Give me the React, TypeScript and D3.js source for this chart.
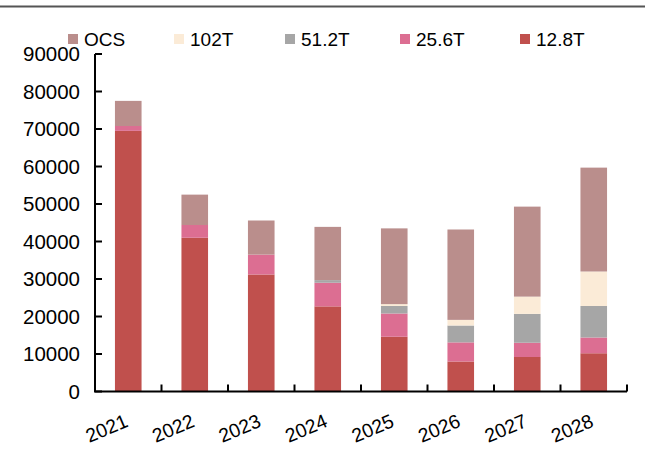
import React from "react";
import * as d3 from "d3";

const years = ["2021", "2022", "2023", "2024", "2025", "2026", "2027", "2028"];
const s128 = [69500, 41000, 31200, 22700, 14600, 8000, 9200, 10200];
const s256 = [1300, 3400, 5300, 6300, 6200, 5100, 3800, 4200];
const s512 = [0, 0, 0, 700, 2000, 4500, 7700, 8400];
const s102 = [0, 0, 0, 0, 500, 1500, 4600, 9200];
const sOCS = [6700, 8100, 9100, 14200, 20200, 24100, 24000, 27700];
const yTicks = [0, 10000, 20000, 30000, 40000, 50000, 60000, 70000, 80000, 90000];

const seriesKeys = ["12.8T", "25.6T", "51.2T", "102T", "OCS"];
const seriesValues = [s128, s256, s512, s102, sOCS];
const colors: Record<string, string> = {
  "12.8T": "#C0504D",
  "25.6T": "#DC6E92",
  "51.2T": "#A6A6A6",
  "102T": "#FBEBD7",
  OCS: "#BA8E8C",
};
const legendOrder = ["OCS", "102T", "51.2T", "25.6T", "12.8T"];

export default function App() {
  const W = 649;
  const H = 458;
  const left = 95;
  const right = 627;
  const top = 54;
  const bottom = 391.5;
  const font = "Liberation Sans, Arial, sans-serif";

  const x = d3.scaleBand<string>().domain(years).range([left, right]).paddingInner(0.6).paddingOuter(0.3);
  const band = d3.scaleBand<string>().domain(years).range([left, right]);
  const y = d3.scaleLinear().domain([0, 90000]).range([bottom, top]);

  const table = years.map((yr, i) => {
    const row: any = { year: yr };
    seriesKeys.forEach((k, j) => (row[k] = seriesValues[j][i]));
    return row;
  });
  const stacked = d3.stack<any>().keys(seriesKeys)(table);

  const legendX = [68, 174, 285, 400, 520];

  return (
    <svg width={W} height={H} style={{ position: "absolute", left: 0, top: 0 }}>
      <rect width={W} height={H} fill="#fff" />
      <line x1={0} x2={645} y1={6.5} y2={6.5} stroke="#555" strokeWidth={2} />
      {stacked.map((layer) => (
        <g key={layer.key} fill={colors[layer.key]}>
          {layer.map((d, i) => {
            const h = y(d[0]) - y(d[1]);
            if (h <= 0) return null;
            return (
              <rect
                key={i}
                x={x(years[i])}
                y={y(d[1])}
                width={x.bandwidth()}
                height={h}
              />
            );
          })}
        </g>
      ))}
      <g stroke="#000" strokeWidth={2}>
        <line x1={left} x2={left} y1={top} y2={bottom} />
        <line x1={left - 1} x2={right} y1={bottom} y2={bottom} />
        {yTicks.map((t) => (
          <line key={t} x1={left} x2={left + 7} y1={y(t)} y2={y(t)} />
        ))}
        {years.map((yr) => (
          <line
            key={yr}
            x1={(band(yr) as number) + band.bandwidth()}
            x2={(band(yr) as number) + band.bandwidth()}
            y1={bottom}
            y2={bottom - 7}
          />
        ))}
      </g>
      <g fontFamily={font} fontSize={20.5} fill="#000" textAnchor="end">
        {yTicks.map((t) => (
          <text key={t} x={80} y={y(t)} dy="0.36em">
            {t}
          </text>
        ))}
      </g>
      <g fontFamily={font} fontSize={19.5} fill="#000" textAnchor="end">
        {years.map((yr) => {
          const cx = (band(yr) as number) + band.bandwidth() / 2;
          return (
            <text key={yr} transform={`translate(${cx + 1},${426}) rotate(-23)`}>
              {yr}
            </text>
          );
        })}
      </g>
      <g fontFamily={font} fontSize={19} fill="#000">
        {legendOrder.map((k, i) => (
          <g key={k}>
            <rect x={legendX[i]} y={34} width={10} height={10} fill={colors[k]} />
            <text x={legendX[i] + 16} y={46}>
              {k}
            </text>
          </g>
        ))}
      </g>
    </svg>
  );
}
